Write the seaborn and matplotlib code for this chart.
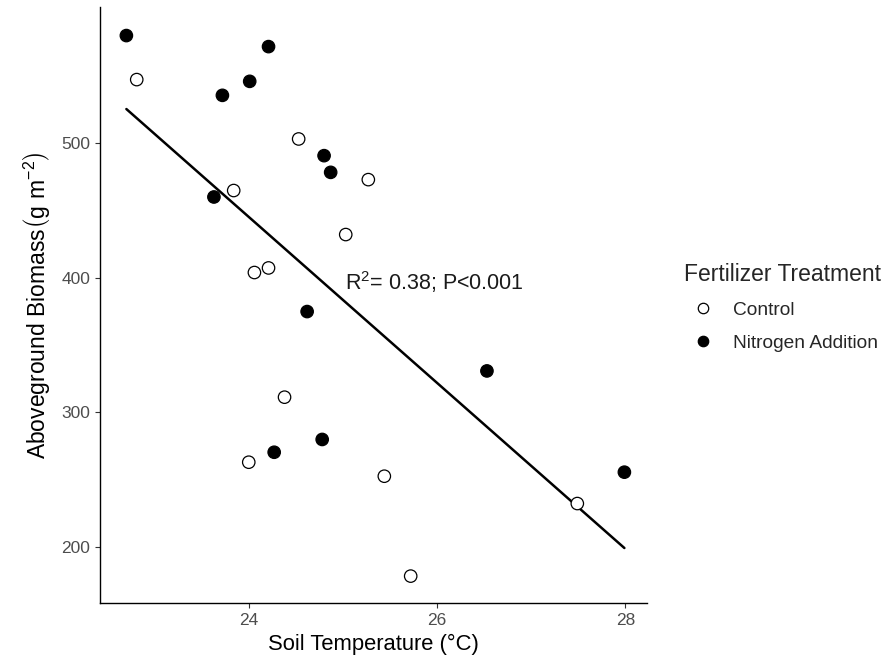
import pandas as pd
import seaborn as sns
import matplotlib.pyplot as plt

# Data
control_temp = [22.81, 24.53, 23.84, 25.27, 25.03, 24.06, 24.21, 24.38, 24.00, 25.44, 25.72, 27.49]
control_biomass = [547.1, 503.0, 464.7, 472.8, 432.0, 403.8, 407.2, 311.2, 262.9, 252.5, 178.3, 232.2]

nitrogen_temp = [22.70, 24.21, 24.01, 23.72, 23.63, 24.80, 24.87, 24.62, 26.53, 24.78, 24.27, 27.99]
nitrogen_biomass = [579.8, 571.6, 545.8, 535.4, 459.9, 490.6, 478.2, 374.8, 330.7, 279.8, 270.3, 255.5]

x_ticks = [24, 26, 28]
y_ticks = [200, 300, 400, 500]

df = pd.DataFrame({
    'Temp': control_temp + nitrogen_temp,
    'Biomass': control_biomass + nitrogen_biomass,
    'Treatment': ['Control'] * len(control_temp) + ['Nitrogen Addition'] * len(nitrogen_temp)
})

sns.set_style("white")
plt.rcParams['font.family'] = ['Liberation Sans', 'DejaVu Sans']
plt.rcParams['mathtext.fontset'] = 'custom'
plt.rcParams['mathtext.rm'] = 'Liberation Sans'

fig = plt.figure(figsize=(8.93, 6.69), dpi=100)
ax = fig.add_axes([0.112, 0.098, 0.6125, 0.8915])

sns.scatterplot(
    data=df,
    x='Temp',
    y='Biomass',
    hue='Treatment',
    palette={'Control': 'white', 'Nitrogen Addition': 'black'},
    edgecolor='black',
    linewidth=0.9,
    s=80,
    ax=ax,
    zorder=3
)

# Regression line over all points
sns.regplot(
    data=df,
    x='Temp',
    y='Biomass',
    scatter=False,
    ci=None,
    color='black',
    line_kws={'linewidth': 1.8},
    ax=ax
)

ax.text(25.02, 391, r"R$\mathregular{^2}$= 0.38; P<0.001", fontsize=15.5,
        color='#1a1a1a', ha='left', va='baseline')

ax.set_xlim(22.42, 28.23)
ax.set_ylim(158, 601)
ax.set_xticks(x_ticks)
ax.set_yticks(y_ticks)

ax.set_xlabel("Soil Temperature (°C)", fontsize=15.8, color='black')
ax.set_ylabel(r"Aboveground Biomass$\mathregular{\left(g\ m^{-2}\right)}$", fontsize=16.5,
              color='black', labelpad=7)

ax.tick_params(axis='both', labelsize=12.5, labelcolor='#4D4D4D', color='#333333',
               length=3.5, width=0.8, bottom=True, left=True)

for side in ['top', 'right']:
    ax.spines[side].set_visible(False)
for side in ['left', 'bottom']:
    ax.spines[side].set_color('black')
    ax.spines[side].set_linewidth(1.0)

handles, labels = ax.get_legend_handles_labels()
ax.legend_.remove()
for h in handles:
    h.set_markersize(7.5)
    h.set_markeredgecolor('black')
    h.set_markeredgewidth(0.9)
leg = fig.legend(
    handles, labels,
    title='Fertilizer Treatment',
    loc='upper left',
    bbox_to_anchor=(0.747, 0.632),
    frameon=False,
    fontsize=13.8,
    title_fontsize=16.5,
    alignment='left',
    labelspacing=0.8,
    handletextpad=0.55
)

plt.savefig('out.png', dpi=100)
